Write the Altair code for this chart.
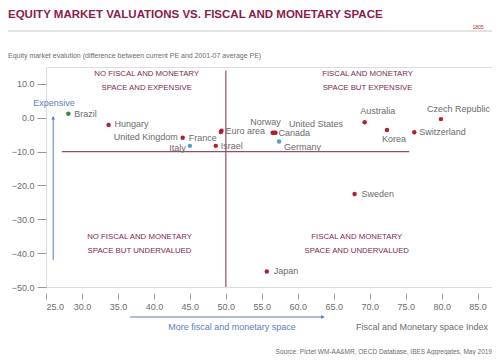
import altair as alt
import pandas as pd

# ---- data ----
countries = ["Brazil", "Hungary", "United Kingdom", "Italy", "France", "Euro area", "Israel",
             "Norway", "United States", "Canada", "Germany", "Australia", "Korea",
             "Switzerland", "Czech Republic", "Sweden", "Japan"]
fiscal_space = [28.1, 33.7, 44.0, 45.0, 49.3, 49.4, 48.6,
                56.5, 56.7, 56.9, 57.4, 69.3, 72.4,
                76.2, 79.9, 67.9, 55.7]
pe_diff = [1.2, -2.1, -5.9, -8.3, -4.2, -3.8, -8.3,
           -4.4, -4.4, -4.4, -7.0, -1.3, -3.6,
           -4.3, -0.4, -22.5, -45.4]
groups = ["em", "dm", "dm", "core", "dm", "dm", "dm",
          "dm", "dm", "dm", "core", "dm", "dm",
          "dm", "dm", "dm", "dm"]

quadrant_labels = ["NO FISCAL AND MONETARY\nSPACE AND EXPENSIVE",
                   "FISCAL AND MONETARY\nSPACE BUT EXPENSIVE",
                   "NO FISCAL AND MONETARY\nSPACE BUT UNDERVALUED",
                   "FISCAL AND MONETARY\nSPACE AND UNDERVALUED"]
quadrant_x = [39.0, 69.7, 38.0, 68.2]
quadrant_y = [13.0, 13.0, -35.1, -35.1]

x_ticks = [25, 30, 35, 40, 45, 50, 55, 60, 65, 70, 75, 80, 85]
y_ticks = [-50, -40, -30, -20, -10, 0, 10]

title_text = "EQUITY MARKET VALUATIONS VS. FISCAL AND MONETARY SPACE"
subtitle_text = "Equity market evalution (difference between current PE and 2001-07 average PE)"
source_text = "Source: Pictet WM-AA&MR, OECD Database, IBES Aggregates, May 2019"
x_title_text = "Fiscal and Monetary space Index"
x_arrow_text = "More fiscal and monetary space"
y_arrow_text = "Expensive"

# reference lines (data coords)
h_line = {"y": -10, "x": 27.2, "x2": 75.5}
v_line = {"x": 50, "y": -50, "y2": 14}
v_arrow = {"x": 26, "y": -42, "y2": 0}
h_arrow = {"x": 36.7, "x2": 63.5}

# ---- styling ----
FONT = "Liberation Sans, Arial, sans-serif"
RED = "#b0202e"
BLUE = "#5a7dbd"
MAROON = "#7d2753"
GREY = "#6b6b6b"
LBL = 9

label_pos = {
    "Brazil": ("left", 6, 0), "Hungary": ("left", 6, -1), "United Kingdom": ("right", -5, -1),
    "Italy": ("right", -4, 2), "France": ("right", -4, 6), "Euro area": ("left", 4, 0),
    "Israel": ("left", 5, 0), "Norway": ("center", -7, -11), "United States": ("left", 15, -9),
    "Canada": ("left", 3, 0), "Germany": ("left", 5, 6), "Australia": ("center", 13, -11),
    "Korea": ("center", 7, 9), "Switzerland": ("left", 5, 0), "Czech Republic": ("right", 49, -10),
    "Sweden": ("left", 7, 0), "Japan": ("left", 7, 0),
}

df = pd.DataFrame({"country": countries, "fs": fiscal_space, "pe": pe_diff, "grp": groups})

xs = alt.Scale(domain=[25, 87], nice=False, zero=False)
ys = alt.Scale(domain=[-50, 15], nice=False, zero=False)

x_axis = alt.Axis(values=x_ticks, format=".1f", title=None, domain=False,
                  grid=False, tickSize=6, offset=6, labelPadding=3,
                  tickColor="#999", labelColor=GREY, labelFontSize=LBL,
                  labelFont=FONT, labelOverlap=False)
y_axis = alt.Axis(values=y_ticks, format=".1f", title=None, domain=False,
                  grid=False, tickSize=9, labelPadding=3,
                  tickColor="#999", labelColor=GREY, labelFontSize=LBL,
                  labelFont=FONT, labelOverlap=False)


def X(f):
    return alt.X(f, scale=xs, axis=x_axis)


def Y(f):
    return alt.Y(f, scale=ys, axis=y_axis)


base = alt.Chart(df)

dots = base.mark_circle(size=20, opacity=1).encode(
    x=X("fs:Q"), y=Y("pe:Q"),
    color=alt.Color("grp:N", scale=alt.Scale(domain=["em", "dm", "core"],
                                             range=["#3b8a3e", RED, "#4f9fd4"]), legend=None))

lines_h = alt.Chart(pd.DataFrame([h_line])).mark_rule(color="#9c4a6a", strokeWidth=1.2).encode(
    x=X("x:Q"), x2="x2:Q", y=Y("y:Q"))
lines_v = alt.Chart(pd.DataFrame([v_line])).mark_rule(color="#9c4a6a", strokeWidth=1.2).encode(
    x=X("x:Q"), y=Y("y:Q"), y2="y2:Q")

arr_v = alt.Chart(pd.DataFrame([v_arrow])).mark_rule(color=BLUE, strokeWidth=1).encode(
    x=X("x:Q"), y=Y("y:Q"), y2="y2:Q")
arr_v_head = alt.Chart(pd.DataFrame([v_arrow])).mark_point(shape="triangle-up", filled=True,
                                                          color=BLUE, size=16, opacity=1).encode(
    x=X("x:Q"), y=Y("y2:Q"))
arr_h = alt.Chart(pd.DataFrame([h_arrow])).mark_rule(color=BLUE, strokeWidth=1).encode(
    x=X("x:Q"), x2="x2:Q", y=alt.value(250))
arr_h_head = alt.Chart(pd.DataFrame([h_arrow])).mark_point(shape="triangle-right", filled=True,
                                                          color=BLUE, size=16, opacity=1).encode(
    x=X("x2:Q"), y=alt.value(250))

label_layers = []
for c in countries:
    a, dx, dy = label_pos[c]
    label_layers.append(
        base.transform_filter(alt.datum.country == c).mark_text(
            align=a, baseline="middle", dx=dx, dy=dy, font=FONT, fontSize=LBL, color=GREY
        ).encode(x=X("fs:Q"), y=Y("pe:Q"), text="country:N"))

qdf = pd.DataFrame({"t": [q.split("\n") for q in quadrant_labels], "x": quadrant_x, "y": quadrant_y})
quads = alt.Chart(qdf).mark_text(font=FONT, fontSize=7.8, color=MAROON, lineHeight=14,
                                 baseline="middle").encode(
    x=X("x:Q"), y=Y("y:Q"), text="t")


def ann(text, x, y, **kw):
    return alt.Chart(alt.Data(values=[{}])).mark_text(text=text, font=FONT, **kw).encode(
        x=alt.value(x), y=alt.value(y))


title = ann(title_text, -38, -52, align="left", baseline="middle", fontSize=11.5, fontWeight="bold",
            color="#8a1c4c")
logo_year = ann("1805", 432, -40, align="center", baseline="middle", fontSize=5, color="#a03030")
sep = alt.Chart(alt.Data(values=[{}])).mark_rule(color="#c8c8c8", strokeWidth=1).encode(
    x=alt.value(-38), x2=alt.value(446), y=alt.value(-36))
subtitle = ann(subtitle_text, -38, -11, align="left", baseline="middle", fontSize=7, color=GREY)
source = ann(source_text, 446, 285, align="right", baseline="middle", fontSize=6.5, color=GREY)
xtitle = ann(x_title_text, 442, 260, align="right", baseline="middle", fontSize=LBL, color=GREY)
xarrowt = ann(x_arrow_text, 186, 260, align="center", baseline="middle", fontSize=LBL, color=BLUE)
yarrowt = ann(y_arrow_text, 8, 36, align="center", baseline="middle", fontSize=LBL, color=BLUE)

chart = alt.layer(
    dots, lines_h, lines_v, arr_v, arr_v_head, arr_h, arr_h_head, quads, *label_layers,
    title, logo_year, sep, subtitle, source, xtitle, xarrowt, yarrowt
).properties(
    width=446, height=220,
    autosize=alt.AutoSizeParams(type="none"),
    padding={"left": 38, "top": 59, "right": 0, "bottom": 68},
).configure_view(stroke=None).configure_axis(labelOverlap=False).configure(background="white")

chart.save("out.html", embed_options={"renderer": "svg", "actions": False})
